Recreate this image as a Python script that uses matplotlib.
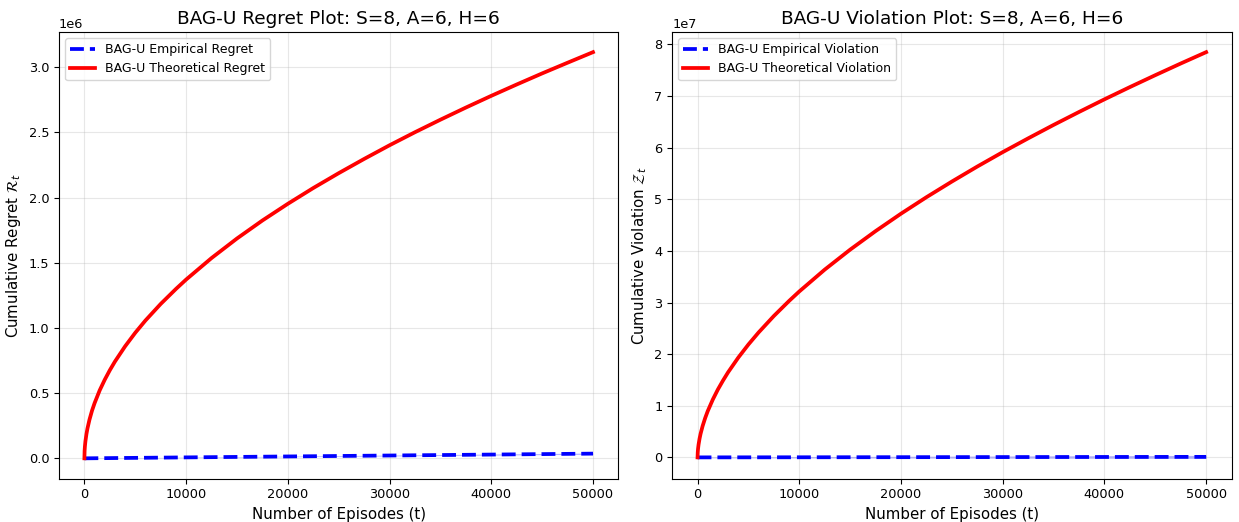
import numpy as np
import matplotlib
matplotlib.use('Agg')
import matplotlib.pyplot as plt

# 讀圖得到的數據點
episodes = [0, 20, 50, 100, 200, 300, 500, 750, 1000, 1500, 2000, 2500, 3000, 4000,
            5000, 6000, 7500, 9000, 10000,
            12500, 15000, 17500, 20000, 22500, 25000, 27500, 30000,
            32500, 35000, 37500, 40000, 42500, 45000, 47500, 50000]

# 理論 regret (單位 1e6)
regret_theory = [0, 0.058, 0.092, 0.131, 0.186, 0.229, 0.297, 0.366, 0.423, 0.521, 0.603, 0.676, 0.742, 0.859,
                 0.963, 1.057, 1.184, 1.299, 1.371,
                 1.536, 1.686, 1.824, 1.952, 2.073, 2.187, 2.296, 2.401,
                 2.501, 2.597, 2.690, 2.780, 2.867, 2.952, 3.034, 3.115]
# 經驗 regret (單位 1e6)
regret_emp = [0, 0.00001, 0.00004, 0.00007, 0.00014, 0.00022, 0.00036, 0.00054, 0.00072, 0.0011, 0.0014, 0.0018, 0.0022, 0.0029,
              0.0036, 0.0043, 0.0054, 0.0065, 0.0072,
              0.0090, 0.0108, 0.0126, 0.0144, 0.0162, 0.0180, 0.0198, 0.0216,
              0.0234, 0.0252, 0.0270, 0.0288, 0.0306, 0.0324, 0.0342, 0.0360]
regret_emp_std = [0, 0.0001, 0.0002, 0.0003, 0.0004, 0.0005, 0.0006, 0.0007, 0.0008, 0.0009, 0.0010, 0.0010, 0.0011, 0.0011,
                  0.0012, 0.0013, 0.0014, 0.0015, 0.0016,
                  0.0018, 0.0020, 0.0022, 0.0024, 0.0026, 0.0028, 0.0030, 0.0032,
                  0.0034, 0.0036, 0.0038, 0.0040, 0.0042, 0.0044, 0.0046, 0.0048]

# 理論 violation (單位 1e7)
viol_theory = [0, 0.102, 0.170, 0.249, 0.366, 0.459, 0.609, 0.763, 0.896, 1.121, 1.316, 1.488, 1.648, 1.932,
               2.187, 2.420, 2.739, 3.031, 3.214,
               3.637, 4.024, 4.383, 4.721, 5.040, 5.343, 5.634, 5.913,
               6.180, 6.440, 6.691, 6.936, 7.173, 7.404, 7.630, 7.850]
# 經驗 violation (單位 1e7)
viol_emp = [0, 0.000004, 0.00001, 0.00002, 0.00004, 0.00006, 0.0001, 0.00015, 0.0002, 0.0003, 0.0004, 0.0005, 0.0006, 0.0008,
            0.0010, 0.0012, 0.0015, 0.0018, 0.0020,
            0.0025, 0.0030, 0.0035, 0.0040, 0.0045, 0.0050, 0.0055, 0.0060,
            0.0065, 0.0070, 0.0075, 0.0080, 0.0085, 0.0090, 0.0095, 0.0100]
viol_emp_std = [0, 0.001, 0.002, 0.003, 0.004, 0.005, 0.006, 0.007, 0.008, 0.009, 0.010, 0.010, 0.011, 0.011,
                0.011, 0.012, 0.012, 0.013, 0.013,
                0.014, 0.015, 0.016, 0.017, 0.018, 0.019, 0.020, 0.021,
                0.022, 0.023, 0.024, 0.025, 0.026, 0.027, 0.028, 0.029]

fig, axes = plt.subplots(1, 2, figsize=(12.39, 5.22), dpi=100)
fig.subplots_adjust(left=0.0476, right=0.994, top=0.939, bottom=0.083, wspace=0.096)

panels = [
    (axes[0], regret_emp, regret_emp_std, regret_theory, 1e6, 'Regret', r'Cumulative Regret $\mathcal{R}_t$'),
    (axes[1], viol_emp, viol_emp_std, viol_theory, 1e7, 'Violation', r'Cumulative Violation $\mathcal{Z}_t$'),
]

for ax, emp, std, theory, unit, name, ylabel in panels:
    emp = np.array(emp) * unit
    std = np.array(std) * unit
    theory = np.array(theory) * unit
    ax.plot(episodes, emp, color='blue', linestyle='--', linewidth=2.7,
            label=f'BAG-U Empirical {name}')
    ax.fill_between(episodes, emp - std, emp + std, color='blue', alpha=0.3, linewidth=0)
    ax.plot(episodes, theory, color='red', linewidth=2.7,
            label=f'BAG-U Theoretical {name}')
    ax.set_title(f'BAG-U {name} Plot: S=8, A=6, H=6', fontsize=13.3)
    ax.set_xlabel('Number of Episodes (t)', fontsize=10.8)
    ax.set_ylabel(ylabel, fontsize=10.8)
    ax.tick_params(labelsize=9.3)
    ax.yaxis.get_offset_text().set_fontsize(9.3)
    ax.grid(True, alpha=0.3)
    ax.legend(loc='upper left', fontsize=9)

fig.savefig('out.png')
